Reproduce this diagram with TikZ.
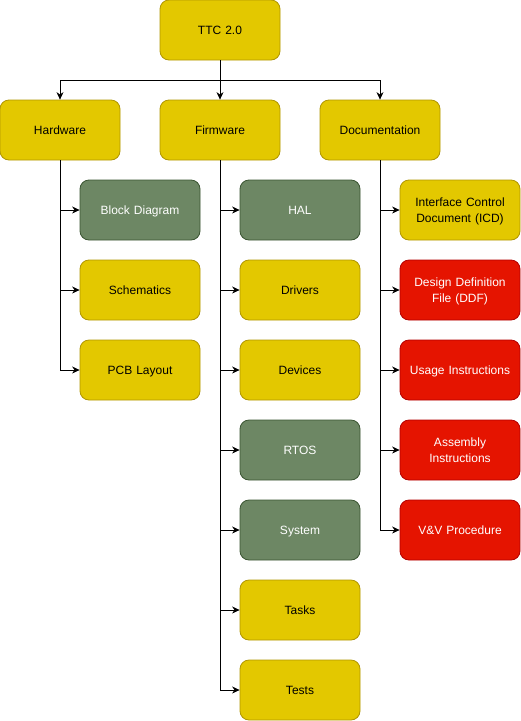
\documentclass[tikz,border=0pt]{standalone}
\usepackage{fontspec}
\setmainfont{Liberation Sans}
\usetikzlibrary{arrows.meta}
\definecolor{yfill}{HTML}{E3C800}
\definecolor{ydraw}{HTML}{B09500}
\definecolor{gfill}{HTML}{6D8764}
\definecolor{gdraw}{HTML}{3A5431}
\definecolor{rfill}{HTML}{E51400}
\definecolor{rdraw}{HTML}{B20000}
\newcommand{\mystrut}{\vrule height 11.5pt depth 3pt width 0pt}
\tikzset{
  box/.style={rectangle, rounded corners=9pt, minimum width=120pt, minimum height=60pt,
    text width=112pt, align=center, font=\fontsize{12}{14}\selectfont, line width=0.8pt, inner sep=0pt,
    execute at begin node={\mystrut}, execute at end node={\mystrut}},
  ybox/.style={box, fill=yfill, draw=ydraw, text=black},
  gbox/.style={box, fill=gfill, draw=gdraw, text=white},
  rbox/.style={box, fill=rfill, draw=rdraw, text=white},
  conn/.style={draw=black, line width=0.8pt, -{Stealth[length=7.5pt,width=7pt]}},
}
\begin{document}
\begin{tikzpicture}[x=1pt,y=-1pt]
\useasboundingbox (0,0) rectangle (521,721);
\node[ybox] (ttc) at (220,30) {TTC 2.0};
\node[ybox] (hw) at (60,130) {Hardware};
\node[ybox] (fw) at (220,130) {Firmware};
\node[ybox] (doc) at (380,130) {Documentation};

\node[gbox] (bd) at (140,210) {Block Diagram};
\node[ybox] (sch) at (140,290) {Schematics};
\node[ybox] (pcb) at (140,370) {PCB Layout};

\node[gbox] (hal) at (300,210) {HAL};
\node[ybox] (drv) at (300,290) {Drivers};
\node[ybox] (dev) at (300,370) {Devices};
\node[gbox] (rtos) at (300,450) {RTOS};
\node[gbox] (sys) at (300,530) {System};
\node[ybox] (tasks) at (300,610) {Tasks};
\node[ybox] (tests) at (300,690) {Tests};

\node[ybox] (icd) at (460,210) {Interface Control\\Document (ICD)};
\node[rbox] (ddf) at (460,290) {Design Definition\\File (DDF)};
\node[rbox] (usage) at (460,370) {Usage Instructions};
\node[rbox] (asm) at (460,450) {Assembly\\Instructions};
\node[rbox] (vv) at (460,530) {V\&V Procedure};

\coordinate (j) at (220,80);
\draw[conn] (ttc.south) -- (j) -| (hw.north);
\draw[conn] (ttc.south) -- (fw.north);
\draw[conn] (ttc.south) -- (j) -| (doc.north);

\foreach \c in {bd,sch,pcb} \draw[conn] (hw.south) |- (\c.west);
\foreach \c in {hal,drv,dev,rtos,sys,tasks,tests} \draw[conn] (fw.south) |- (\c.west);
\foreach \c in {icd,ddf,usage,asm,vv} \draw[conn] (doc.south) |- (\c.west);
\end{tikzpicture}
\end{document}
